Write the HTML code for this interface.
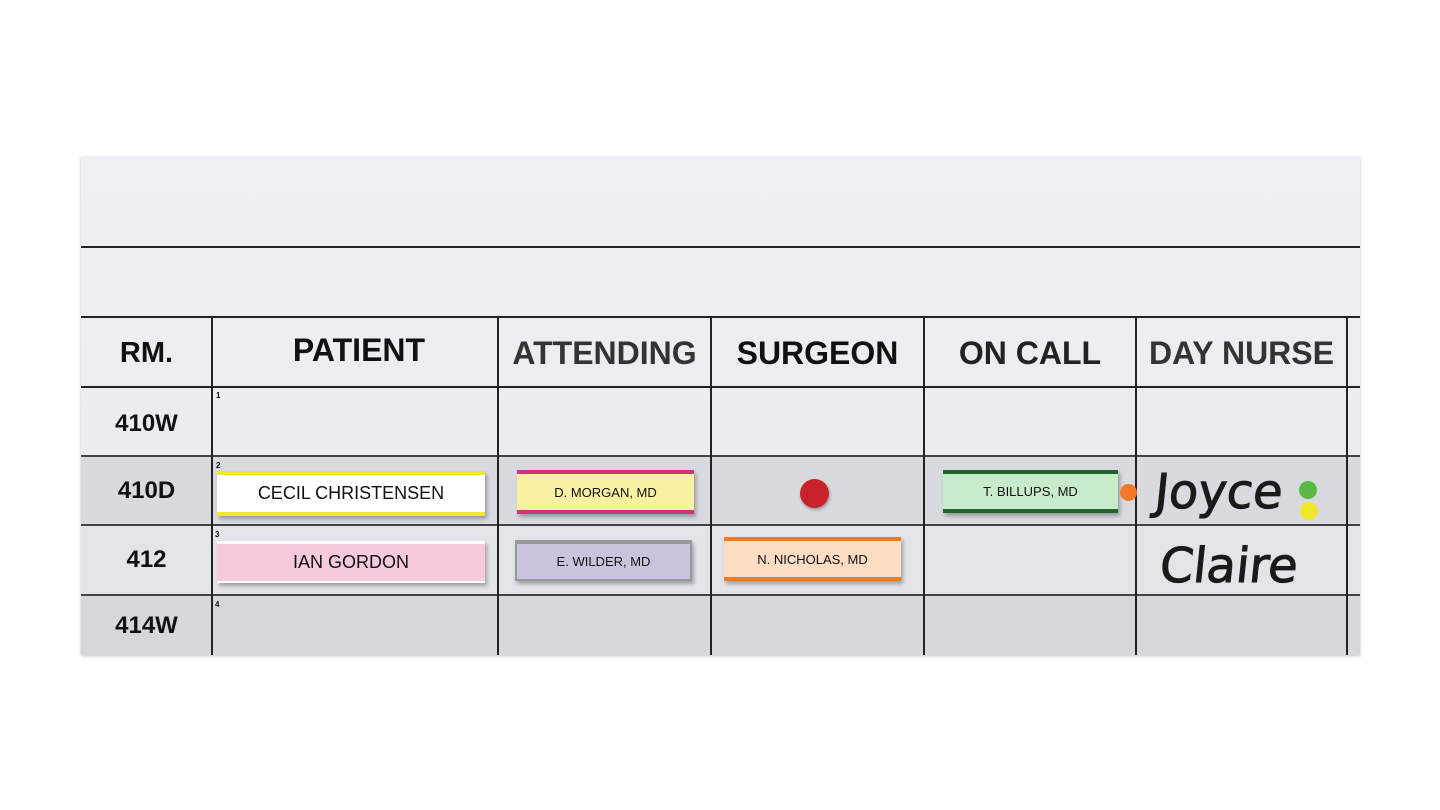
<!DOCTYPE html>
<html><head><meta charset="utf-8"><style>
*{margin:0;padding:0;box-sizing:border-box}
body{width:1440px;height:810px;background:#fff;position:relative;overflow:hidden;font-family:"Liberation Sans",Arial,sans-serif}
.a{position:absolute}
.board{left:81px;top:157px;width:1279px;height:498px;background:linear-gradient(#eef0f4,#e7e9ed);box-shadow:0 1px 3px rgba(0,0,0,.25)}
.hl{position:absolute;height:2px;background:#222}
.vl{position:absolute;width:2px;background:#222}
.hd{position:absolute;top:318px;height:70px;display:flex;align-items:center;justify-content:center;font-weight:bold;font-size:32px;color:#111}
.rm{position:absolute;left:81px;width:131px;display:flex;align-items:center;justify-content:center;font-weight:bold;font-size:24px;color:#111}
.mg{position:absolute;display:flex;align-items:center;justify-content:center;color:#111;box-shadow:2px 3px 4px rgba(0,0,0,.3)}
.num{position:absolute;font-size:8px;font-weight:bold;color:#111}
.dot{position:absolute;border-radius:50%}
.hw{position:absolute;font-family:"DejaVu Sans",sans-serif;color:#1a1a1a;font-size:48px;font-weight:normal;letter-spacing:0;transform:skewX(-6deg);-webkit-text-stroke:1px #1a1a1a}
</style></head><body>
<div class="a board"></div>
<div class="a" style="left:81px;top:457px;width:1279px;height:68px;background:#d9dadf"></div>
<div class="a" style="left:81px;top:525px;width:1279px;height:70px;background:#e2e4e8"></div>
<div class="a" style="left:81px;top:595px;width:1279px;height:60px;background:#d6d7dc"></div>
<div class="hl" style="left:81px;top:246px;width:1279px"></div>
<div class="hl" style="left:81px;top:316px;width:1279px"></div>
<div class="hl" style="left:81px;top:386px;width:1279px"></div>
<div class="hl" style="left:81px;top:455px;width:1279px;background:#444"></div>
<div class="hl" style="left:81px;top:524px;width:1279px;background:#444"></div>
<div class="hl" style="left:81px;top:594px;width:1279px;background:#444"></div>
<div class="vl" style="left:211px;top:317px;height:338px"></div>
<div class="vl" style="left:497px;top:317px;height:338px"></div>
<div class="vl" style="left:710px;top:317px;height:338px"></div>
<div class="vl" style="left:923px;top:317px;height:338px"></div>
<div class="vl" style="left:1135px;top:317px;height:338px"></div>
<div class="vl" style="left:1346px;top:317px;height:338px"></div>
<div class="hd" style="left:81px;width:131px;font-size:29px">RM.</div>
<div class="hd" style="left:212px;width:294px;top:315px">PATIENT</div>
<div class="hd" style="left:498px;width:213px;color:#333">ATTENDING</div>
<div class="hd" style="left:711px;width:213px">SURGEON</div>
<div class="hd" style="left:924px;width:212px;color:#222">ON CALL</div>
<div class="hd" style="left:1136px;width:211px;color:#333">DAY NURSE</div>
<div class="rm" style="top:389px;height:70px">410W</div>
<div class="rm" style="top:457px;height:68px">410D</div>
<div class="rm" style="top:525px;height:70px">412</div>
<div class="rm" style="top:595px;height:62px">414W</div>
<div class="num" style="left:216px;top:391px">1</div>
<div class="num" style="left:216px;top:461px">2</div>
<div class="num" style="left:215px;top:530px">3</div>
<div class="num" style="left:215px;top:600px">4</div>
<div class="mg" style="left:217px;top:471px;width:268px;height:45px;background:#fff;border-top:4px solid #f0e830;border-bottom:4px solid #f0e830;font-size:18px">CECIL CHRISTENSEN</div>
<div class="mg" style="left:217px;top:541px;width:268px;height:42px;background:#f7c9dd;border-top:3px solid #fff;border-bottom:2px solid #fff;font-size:18px">IAN GORDON</div>
<div class="mg" style="left:517px;top:470px;width:177px;height:44px;background:#f8f1a2;border-top:4px solid #d3307e;border-bottom:4px solid #d3307e;font-size:13px">D. MORGAN, MD</div>
<div class="mg" style="left:515px;top:540px;width:177px;height:41px;background:#cbc3de;border:2px solid #999;border-top-width:4px;font-size:13px">E. WILDER, MD</div>
<div class="mg" style="left:724px;top:537px;width:177px;height:44px;background:#fcdcc2;border-top:4px solid #f07a20;border-bottom:4px solid #f07a20;font-size:13px">N. NICHOLAS, MD</div>
<div class="mg" style="left:943px;top:470px;width:175px;height:43px;background:#c8ebca;border-top:4px solid #1e6430;border-bottom:4px solid #1e6430;font-size:13px">T. BILLUPS, MD</div>
<div class="dot" style="left:800px;top:479px;width:29px;height:29px;background:#c8222a;box-shadow:1px 2px 3px rgba(0,0,0,.3)"></div>
<div class="dot" style="left:1120px;top:484px;width:17px;height:17px;background:#f4772a"></div>
<div class="dot" style="left:1299px;top:481px;width:18px;height:18px;background:#5cb845"></div>
<div class="dot" style="left:1300px;top:502px;width:18px;height:18px;background:#f2e628"></div>
<div class="hw" style="left:1155px;top:464px">Joyce</div>
<div class="hw" style="left:1160px;top:538px">Claire</div>
</body></html>
